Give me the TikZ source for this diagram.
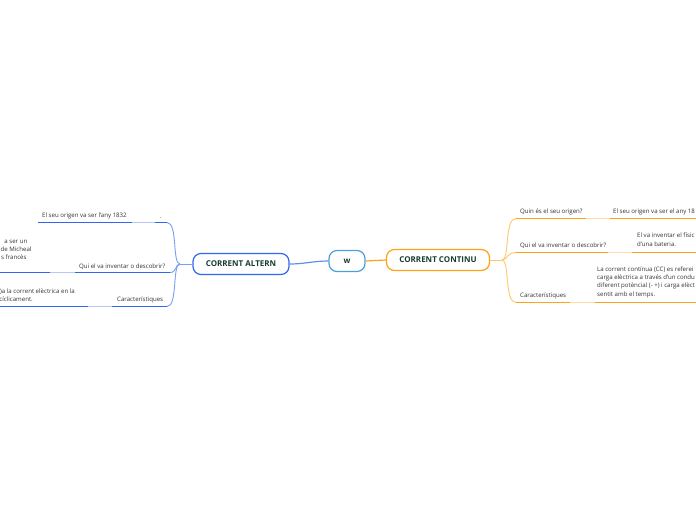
\documentclass[tikz,border=0pt]{standalone}
\usepackage{fontspec}
\setmainfont{Open Sans}
\definecolor{bdark}{HTML}{2F67F0}
\definecolor{blight}{HTML}{B5C8F7}
\definecolor{bcurve}{HTML}{7A9EF2}
\definecolor{odark}{HTML}{FFA21A}
\definecolor{olight}{HTML}{FDDCA8}
\definecolor{ocurve}{HTML}{FFC76E}
\definecolor{wborder}{HTML}{4AA0DC}
\definecolor{maintext}{HTML}{173D2F}
\definecolor{smalltext}{HTML}{333333}
\tikzset{
  mainnode/.style={draw, rounded corners=8pt, line width=1.2pt, minimum height=21pt,
    font=\fontsize{8}{9}\selectfont\bfseries, text=maintext, fill=white, inner xsep=4pt},
  lbl/.style={font=\fontsize{6.1}{8}\selectfont, text=smalltext, inner sep=0pt, anchor=base west},
  lble/.style={lbl, anchor=base east},
  ulb/.style={bdark, line width=1.6pt},
  ulbl/.style={blight, line width=1.6pt},
  ulo/.style={odark, line width=1.6pt},
  ulol/.style={olight, line width=1.6pt},
  bc/.style={bcurve, line width=0.9pt},
  oc/.style={ocurve, line width=0.9pt}
}
\begin{document}
\begin{tikzpicture}[x=1pt,y=-1pt]
\clip (0,0) rectangle (696,520);
\fill[white] (0,0) rectangle (696,520);

% central nodes
\node[mainnode, draw=wborder, minimum width=36pt] (w) at (347,261) {w};
\node[mainnode, draw=bdark, minimum width=96pt] (alt) at (241,264) {CORRENT ALTERN};
\node[mainnode, draw=odark, minimum width=103pt] (cont) at (438,260) {CORRENT CONTINU};

\draw[color=bcurve!70!bdark, line width=1.2pt] (w.west) to[out=180,in=0] (alt.east);
\draw[odark, line width=1.2pt] (w.east) -- (cont.west);

% left branches
\coordinate (lb) at (180,264);
\draw[bc] (alt.west) -- (lb);
\coordinate (l1) at (167,222.5);
\coordinate (l2) at (170,272.5);
\coordinate (l3) at (167,306.5);
\draw[bc] (lb) .. controls (172,264) and (178,222.5) .. (l1);
\draw[bc] (lb) .. controls (175,264) and (177,272.5) .. (l2);
\draw[bc] (lb) .. controls (172,264) and (178,306.5) .. (l3);

\coordinate (l1a) at (155,222.5);
\coordinate (l1b) at (132,222.5);
\coordinate (l1c) at (38,222.5);
\draw[ulb] (l1) -- (l1a);
\draw[ulbl] (l1a) -- (l1b);
\draw[ulb] (l1b) -- (l1c);

\coordinate (l2a) at (75,272.5);
\coordinate (l2b) at (50,272.5);
\coordinate (l2c) at (0,272.5);
\draw[ulb] (l2) -- (l2a);
\draw[ulbl] (l2a) -- (l2b);
\draw[ulb] (l2b) -- (l2c);

\coordinate (l3a) at (112,306.5);
\coordinate (l3b) at (88,306.5);
\coordinate (l3c) at (0,306.5);
\draw[ulb] (l3) -- (l3a);
\draw[ulbl] (l3a) -- (l3b);
\draw[ulb] (l3b) -- (l3c);

\node[lbl] (t1) at (42,217.5) {El seu origen va ser l'any 1832};
\node[lbl] (t1p) at (160,218.5) {.};
\node[lbl] (t2) at (79,268) {Qui el va inventar o descobrir?};
\node[lble] (t2a) at (27.5,243) {a ser un};
\node[lble] (t2b) at (31.7,251) {de Micheal};
\node[lble] (t2c) at (26.7,259) {s francès};
\node[lbl] (t3) at (117,301.5) {Característiques};
\node[lble] (t3a) at (75,293) {)a la corrent elèctrica en la};
\node[lble] (t3b) at (33,301) {cíclicament.};

% right branches
\coordinate (rb) at (502,260);
\draw[oc] (cont.east) -- (rb);
\coordinate (r1) at (516,218.5);
\coordinate (r2) at (516,252.5);
\coordinate (r3) at (516,302.5);
\draw[oc] (rb) .. controls (510,260) and (504,218.5) .. (r1);
\draw[oc] (rb) .. controls (508,260) and (506,252.5) .. (r2);
\draw[oc] (rb) .. controls (510,260) and (504,302.5) .. (r3);

\coordinate (r1a) at (586,218.5);
\coordinate (r1b) at (610,218.5);
\coordinate (r1c) at (700,218.5);
\draw[ulo] (r1) -- (r1a);
\draw[ulol] (r1a) -- (r1b);
\draw[ulo] (r1b) -- (r1c);

\coordinate (r2a) at (608,252.5);
\coordinate (r2b) at (632,252.5);
\coordinate (r2c) at (700,252.5);
\draw[ulo] (r2) -- (r2a);
\draw[ulol] (r2a) -- (r2b);
\draw[ulo] (r2b) -- (r2c);

\coordinate (r3a) at (570,302.5);
\coordinate (r3b) at (595,302.5);
\coordinate (r3c) at (700,302.5);
\draw[ulo] (r3) -- (r3a);
\draw[ulol] (r3a) -- (r3b);
\draw[ulo] (r3b) -- (r3c);

\node[lbl] (s1) at (520,213) {Quin és el seu origen?};
\node[lbl] (s1a) at (613,213) {El seu origen va ser el any 18};
\node[lbl] (s2) at (520,247) {Qui el va inventar o descobrir?};
\node[lbl] (s2a) at (637,237) {El va inventar el físic i};
\node[lbl] (s2b) at (637,246) {d'una bateria.};
\node[lbl] (s3) at (520,297) {Característiques};
\node[lbl] (s3a) at (597,271) {La corrent contínua (CC) es referei};
\node[lbl] (s3b) at (597,279.3) {carga elèctrica a través d'un condu};
\node[lbl] (s3c) at (597,287.7) {diferent potèncial (- +) i carga elèct};
\node[lbl] (s3d) at (597,296) {sentit amb el temps.};
\end{tikzpicture}
\end{document}
